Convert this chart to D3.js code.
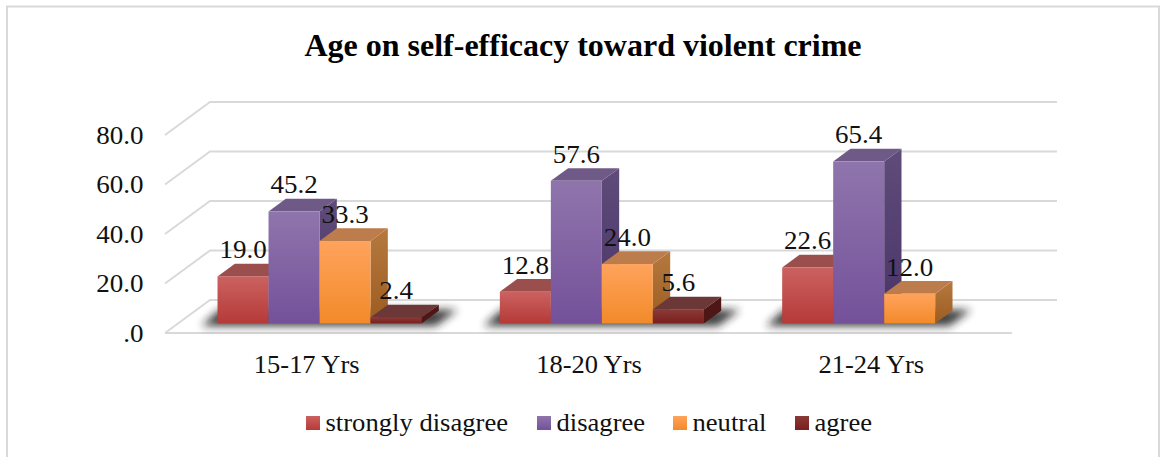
<!DOCTYPE html>
<html><head><meta charset="utf-8">
<script src="https://cdn.jsdelivr.net/npm/d3@7"></script>
<style>html,body{margin:0;padding:0;background:#fff}svg{display:block}
text{font-family:"Liberation Serif",serif;fill:#111}</style></head>
<body><svg id="c" width="1160" height="457"></svg>
<script>
const title = "Age on self-efficacy toward violent crime";
const categories = ["15-17 Yrs","18-20 Yrs","21-24 Yrs"];
const seriesNames = ["strongly disagree","disagree","neutral","agree"];
const stronglyDisagree = [19.0,12.8,22.6];
const disagree = [45.2,57.6,65.4];
const neutral = [33.3,24.0,12.0];
const agree = [2.4,5.6,null];
const yTicks = [0,20,40,60,80];
const palette = {
  "strongly disagree":{top:"#cb6260",bot:"#b53a38",cap:"#9a4f4d",side:"#8d3533"},
  "disagree":{top:"#8f75ac",bot:"#74519a",cap:"#6f5a87",sideTop:"#5f4c7a",side:"#4a3468"},
  "neutral":{top:"#ffa35c",bot:"#f28a2a",cap:"#bd7c4b",sideTop:"#b5793f",side:"#9c5c20"},
  "agree":{top:"#8a3a38",bot:"#7a1f1d",cap:"#6b3837",side:"#4e1614"}
};
const seriesValues = [stronglyDisagree,disagree,neutral,agree];

const svg = d3.select("#c");
const defs = svg.append("defs");
seriesNames.forEach((s,i)=>{
  const g = defs.append("linearGradient").attr("id","g"+i).attr("x1",0).attr("y1",0).attr("x2",0).attr("y2",1);
  g.append("stop").attr("offset",0).attr("stop-color",palette[s].top);
  g.append("stop").attr("offset",1).attr("stop-color",palette[s].bot);
  const h = defs.append("linearGradient").attr("id","s"+i).attr("x1",0).attr("y1",0).attr("x2",0).attr("y2",1);
  h.append("stop").attr("offset",0).attr("stop-color",palette[s].sideTop||palette[s].side);
  h.append("stop").attr("offset",1).attr("stop-color",palette[s].side);
});
defs.append("filter").attr("id","blur").attr("x","-20%").attr("y","-200%").attr("width","140%").attr("height","500%")
  .append("feGaussianBlur").attr("stdDeviation",4.5);

function stext(parent,x,yy,str,size,anchor,sx){
  return parent.append("text").attr("transform",`translate(${x},${yy}) scale(${sx},1)`)
    .attr("text-anchor",anchor).attr("font-size",size).text(str);
}

// frame
svg.append("path").attr("d","M7,457V6.5H1159V457").attr("fill","none").attr("stroke","#d9d9d9").attr("stroke-width",2);

const depth = {x:45,y:-33};
const x0 = d3.scaleBand().domain(categories).range([165,1012]);
const y = d3.scaleLinear().domain([0,80]).range([333,135]);
const barZ = 0.29, barZ2 = barZ+0.385;
const px = (x,z)=>x+depth.x*z, py=(v,z)=>y(v)+depth.y*z;
const x1 = d3.scaleBand().domain(seriesNames).range([0,204]);
const groupLeft = c => x0(c)+x0.bandwidth()/2-75.6-depth.x*barZ;

// grid
const gridG = svg.append("g").attr("fill","none").attr("stroke","#d9d9d9").attr("stroke-width",2);
yTicks.forEach(t=>{
  gridG.append("path").attr("d",`M${px(165,0)},${y(t)}L${px(165,1)},${py(t,1)}H${px(1012,1)}`);
});
gridG.append("path").attr("d",`M165,${y(0)}H1012`);

// axis labels
yTicks.forEach(d=>stext(svg,143.5,y(d)+8.5,d===0?".0":d3.format(".1f")(d),25.5,"end",1.06));
categories.forEach(c=>stext(svg,x0(c)+x0.bandwidth()/2+0.5,373,c,25,"middle",1.06));

// title
svg.append("text").attr("x",583).attr("y",56).attr("text-anchor","middle").attr("font-size",32).attr("font-weight","bold").style("fill","#000").text(title);

// shadows
categories.forEach((c,ci)=>{
  const n = seriesValues.filter(a=>a[ci]!=null).length;
  const L = groupLeft(c), R = L+x1.bandwidth()*n;
  svg.append("path").attr("fill","#1c1c1c").attr("filter","url(#blur)").attr("opacity",.85)
    .attr("d",`M${L-16},${py(0,barZ)+2.5}L${L+2},${py(0,barZ2)-1}H${R+36}L${R+14},${py(0,barZ)+2.5}Z`);
});

// bars
const bars = svg.append("g");
categories.forEach((c,ci)=>{
  seriesNames.forEach((s,si)=>{
    const v = seriesValues[si][ci];
    if(v==null) return;
    const L = groupLeft(c)+x1(s), W = x1.bandwidth(), dx=depth.x*(barZ2-barZ), dy=depth.y*(barZ2-barZ);
    const yb = py(0,barZ), yt = py(v,barZ);
    const g = bars.append("g");
    g.append("path").attr("fill",`url(#s${si})`)
      .attr("d",`M${L+W},${yt}L${L+W+dx},${yt+dy}V${yb+dy}L${L+W},${yb}Z`);
    g.append("path").attr("fill",palette[s].cap)
      .attr("d",`M${L},${yt}L${L+dx},${yt+dy}H${L+W+dx}L${L+W},${yt}Z`);
    g.append("rect").attr("x",L).attr("y",yt).attr("width",W).attr("height",yb-yt).attr("fill",`url(#g${si})`);
  });
});
// data labels on top
categories.forEach((c,ci)=>{
  seriesNames.forEach((s,si)=>{
    const v = seriesValues[si][ci];
    if(v==null) return;
    const W=x1.bandwidth();
    stext(svg,groupLeft(c)+x1(s)+W/2,py(v,barZ)+depth.y*(barZ2-barZ)-5.5,d3.format(".1f")(v),25,"middle",1.08);
  });
});

// legend
const legendX = [306,537,673,795];
seriesNames.forEach((s,i)=>{
  const g = svg.append("g").attr("transform",`translate(${legendX[i]},416)`);
  g.append("rect").attr("width",14).attr("height",14).attr("fill",`url(#g${i})`);
  stext(g,19.5,15,s,25,"start",1.065);
});
</script></body></html>
